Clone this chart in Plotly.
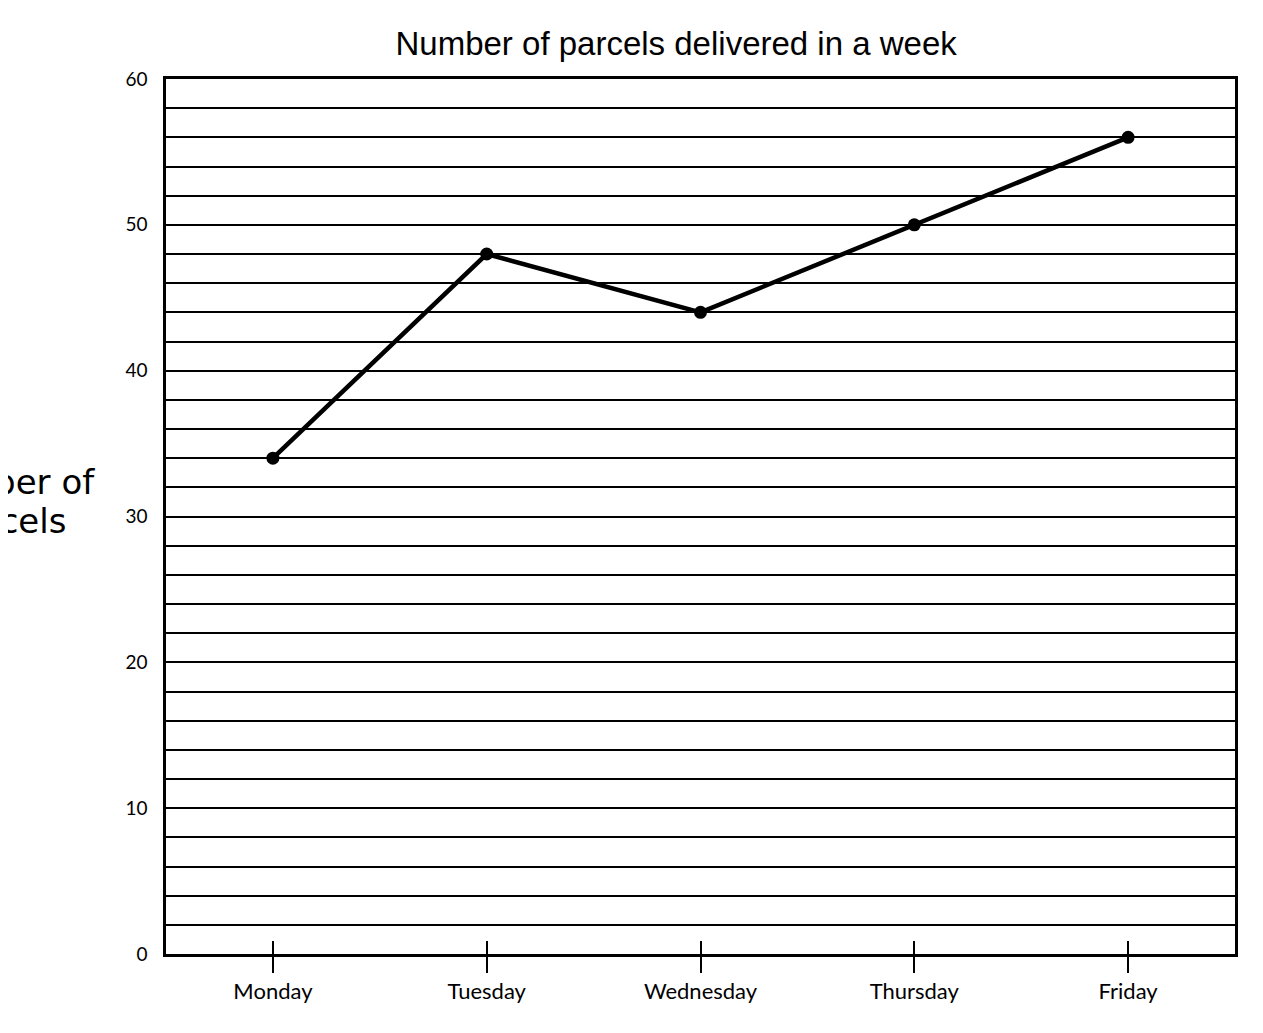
import plotly.graph_objects as go

days = ['Monday', 'Tuesday', 'Wednesday', 'Thursday', 'Friday']
parcels = [34, 48, 44, 50, 56]
y_ticks = [0, 10, 20, 30, 40, 50, 60]

fig = go.Figure()

fig.add_trace(go.Scatter(
    x=days,
    y=parcels,
    mode='lines+markers',
    line=dict(color='black', width=4.5),
    marker=dict(color='black', size=13),
    showlegend=False,
))

# empty trace on an overlaid axis, only to draw the inner half of the ticks
fig.add_trace(go.Scatter(
    x=days, y=parcels, xaxis='x2', mode='none',
    showlegend=False, hoverinfo='skip',
))

fig.update_layout(
    width=1263,
    height=1033,
    margin=dict(l=158, r=36, t=71, b=87),
    plot_bgcolor='white',
    paper_bgcolor='white',
    title=dict(
        text='Number of parcels delivered in a week',
        font=dict(family='Liberation Sans', size=33, color='black'),
        x=0.529, xanchor='center',
        y=0.966, yanchor='middle',
    ),
    xaxis=dict(
        type='category',
        range=[-0.5, 4.5],
        showgrid=False,
        showline=True, linecolor='black', linewidth=2.5, mirror=True,
        ticks='outside', ticklen=16, tickwidth=1.5, tickcolor='black',
        tickfont=dict(family='Lato', size=22, color='black'),
    ),
    xaxis2=dict(
        type='category',
        overlaying='x',
        side='bottom',
        range=[-0.5, 4.5],
        showgrid=False, showline=False, zeroline=False,
        showticklabels=False,
        ticks='inside', ticklen=13, tickwidth=1.5, tickcolor='black',
    ),
    yaxis=dict(
        range=[0, 60],
        tickvals=y_ticks,
        ticktext=[str(v) for v in y_ticks],
        showgrid=True, gridcolor='black', gridwidth=1.6,
        showline=True, linecolor='black', linewidth=2.5, mirror=True,
        zeroline=False,
        ticks='', ticklabelstandoff=12,
        tickfont=dict(family='Lato', size=19, color='black'),
        minor=dict(dtick=2, showgrid=True, gridcolor='black', gridwidth=1.6),
    ),
    annotations=[
        # y-axis title, partly cut off at the left edge as in the scan
        dict(
            text='Number of',
            xref='paper', yref='paper',
            x=-0.151, y=0.539,
            xanchor='center', yanchor='middle',
            showarrow=False,
            font=dict(family='DejaVu Sans', size=34, color='black'),
        ),
        dict(
            text='parcels',
            xref='paper', yref='paper',
            x=-0.151, y=0.495,
            xanchor='center', yanchor='middle',
            showarrow=False,
            font=dict(family='DejaVu Sans', size=34, color='black'),
        ),
    ],
)

fig.write_html('out.html')
